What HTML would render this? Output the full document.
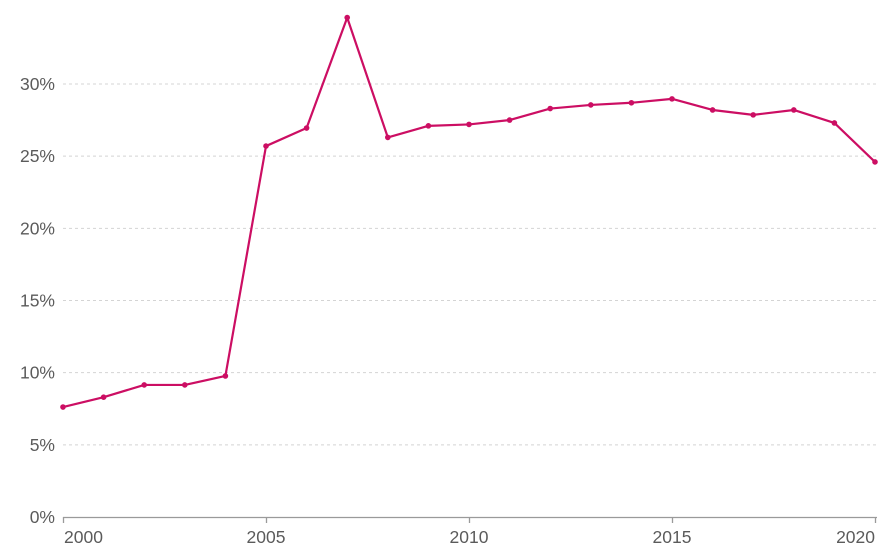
<!DOCTYPE html>
<html><head><meta charset="utf-8"><style>
html,body{margin:0;padding:0;background:#fff;width:878px;height:550px;overflow:hidden}
text{font-family:"Liberation Sans",sans-serif;font-size:17.5px;fill:#5b5b5b}
</style></head><body>
<svg id="chart" width="878" height="550" xmlns="http://www.w3.org/2000/svg">
<g id="grid"></g>
<g id="yaxis"></g>
<g id="xaxis"></g>
<g id="series"></g>
</svg>
<script>
const years = [2000,2001,2002,2003,2004,2005,2006,2007,2008,2009,2010,2011,2012,2013,2014,2015,2016,2017,2018,2019,2020];
const values = [7.62,8.3,9.15,9.15,9.77,25.7,26.95,34.6,26.3,27.1,27.2,27.5,28.3,28.55,28.7,28.97,28.2,27.86,28.2,27.3,24.6];
const yTicks = [0,5,10,15,20,25,30];
const xTicks = [2000,2005,2010,2015,2020];
const NS="http://www.w3.org/2000/svg";
const x0=63,x1=875,y0=517,yPerPct=(517-84)/30;
const xs=v=>x0+(v-2000)/20*(x1-x0);
const ys=v=>y0-v*yPerPct;
function mk(tag,attrs,parent){const e=document.createElementNS(NS,tag);for(const k in attrs)e.setAttribute(k,attrs[k]);parent.appendChild(e);return e;}
const grid=document.getElementById('grid'),ya=document.getElementById('yaxis'),xa=document.getElementById('xaxis'),se=document.getElementById('series');
yTicks.forEach(t=>{
  if(t>0){const l=mk('line',{x1:x0,x2:878,y1:ys(t),y2:ys(t),stroke:'#d4d4d4','stroke-dasharray':'3,3','stroke-width':1},grid);
  
  }
  const tx=mk('text',{x:55,y:ys(t)+6,'text-anchor':'end'},ya);tx.textContent=t+'%';
  
  
});
const ax=mk('line',{x1:x0,x2:x1+2,y1:y0+0.5,y2:y0+0.5,stroke:'#9a9a9a','stroke-width':1.3},xa);


xTicks.forEach((t,i)=>{
  const tk=mk('line',{x1:xs(t)+0.5,x2:xs(t)+0.5,y1:y0,y2:y0+6,stroke:'#9a9a9a','stroke-width':1.3},xa);
  
  
  const anchor=i===0?'start':(i===xTicks.length-1?'end':'middle');
  const tx=mk('text',{x:xs(t)+(i===0?1:0),y:543,'text-anchor':anchor},xa);tx.textContent=t;
  
  
});
const pts=years.map((y,i)=>xs(y)+','+ys(values[i])).join(' ');
const pl=mk('polyline',{points:pts,fill:'none',stroke:'#cc0e63','stroke-width':2.2,'stroke-linejoin':'round'},se);


years.forEach((y,i)=>{
  const c=mk('circle',{cx:xs(y),cy:ys(values[i]),r:2.8,fill:'#cc0e63'},se);
  
  
});
</script>
</body></html>
